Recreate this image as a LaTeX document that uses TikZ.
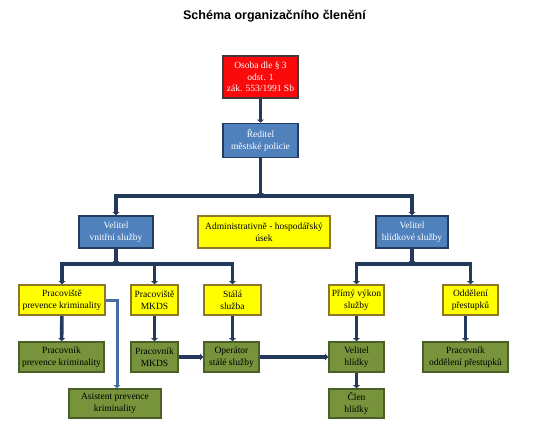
\documentclass[tikz,border=0pt]{standalone}
\usepackage{fontspec}
\setmainfont{Liberation Serif}
\newfontfamily\titlefont{Liberation Sans}
\usepackage{tikz}
\usetikzlibrary{arrows.meta}
\usetikzlibrary{calc}

\begin{document}
\begin{tikzpicture}[every text node part/.style={align=center},
				x=1pt, y=-1pt,
				every node/.style={font=\fontsize{9.5}{11.5}\selectfont},
				box/.style={rectangle, inner sep=0pt, line width=1.6pt},
				redbox/.style={box, fill=osred, draw=osredline, text=white, minimum width=75pt, minimum height=42pt},
				bluebox/.style={box, fill=osblue, draw=osblueline, text=white, minimum height=34pt},
				yellowbox/.style={box, fill=osyellow, draw=osyellowline, minimum height=30pt},
				greenbox/.style={box, fill=osgreen, draw=osgreenline, minimum height=30pt},
				arrow/.style={-{Triangle[length=3pt,width=6.5pt]}, line width=3.6pt, osnavy},
				lightarrow/.style={-{Triangle[length=3pt,width=6.5pt]}, line width=3pt, osasist}]

					\definecolor{osred}{RGB}{250,10,10}
					\definecolor{osredline}{RGB}{70,55,60}
					\definecolor{osblue}{RGB}{79,129,189}
					\definecolor{osblueline}{RGB}{35,60,95}
					\definecolor{osyellow}{RGB}{255,255,0}
					\definecolor{osyellowline}{RGB}{140,120,40}
					\definecolor{osgreen}{RGB}{119,147,60}
					\definecolor{osgreenline}{RGB}{75,95,40}
					\definecolor{osnavy}{RGB}{36,58,90}
					\definecolor{osasist}{RGB}{70,110,160}

					\useasboundingbox (0,0) rectangle (549,437);

					\node (title) at (274.5,16) {\titlefont\bfseries\fontsize{12.5}{14}\selectfont Schéma organizačního členění};

					\node[redbox] (osoba) at (260.5,77) {Osoba dle § 3\\ odst. 1\\ zák. 553/1991 Sb};
					\node[bluebox, minimum width=75pt] (reditel) at (260.5,140.5) {Ředitel\\ městské policie};

					\node[bluebox, minimum width=74pt, minimum height=32pt] (vnitrni) at (116,232) {Velitel\\ vnitřní služby};
					\node[yellowbox, minimum width=132pt, minimum height=32pt] (admin) at (264,232) {Administrativně - hospodářský\\ úsek};
					\node[bluebox, minimum width=72pt, minimum height=32pt] (hlidkova) at (412,232) {Velitel\\ hlídkové služby};

					\node[yellowbox, minimum width=86pt] (prevence) at (62,300) {Pracoviště\\ prevence kriminality};
					\node[yellowbox, minimum width=47pt] (mkds) at (154.5,300) {Pracoviště\\ MKDS};
					\node[yellowbox, minimum width=57pt] (stala) at (232.5,300) {Stálá\\ služba};
					\node[yellowbox, minimum width=55pt] (vykon) at (356.5,300) {Přímý výkon\\ služby};
					\node[yellowbox, minimum width=55pt] (prestupky) at (470.5,300) {Oddělení\\ přestupků};

					\node[greenbox, minimum width=85pt] (pprevence) at (61.5,357) {Pracovník\\ prevence kriminality};
					\node[greenbox, minimum width=47pt] (pmkds) at (154.5,357) {Pracovník\\ MKDS};
					\node[greenbox, minimum width=55pt] (operator) at (231.5,357) {Operátor\\ stálé služby};
					\node[greenbox, minimum width=55pt] (hlidka) at (356.5,357) {Velitel\\ hlídky};
					\node[greenbox, minimum width=85pt] (pprestupky) at (465.5,357) {Pracovník\\ oddělení přestupků};

					\node[greenbox, minimum width=92pt, minimum height=29pt] (asistent) at (115,403.5) {Asistent prevence\\ kriminality};
					\node[greenbox, minimum width=55pt, minimum height=29pt] (clen) at (356.5,403.5) {Člen\\ hlídky};

					\coordinate (bar) at (260.5,196);
					\coordinate (barleft) at (116,264);
					\coordinate (barright) at (412,264);

					\draw (osoba) edge [arrow] (reditel);
					\draw (reditel) edge [arrow] (bar);
					\draw[arrow] (bar) -| (vnitrni);
					\draw[arrow] (bar) -| (hlidkova);

					\draw (vnitrni) edge [arrow] (barleft);
					\draw[arrow] (barleft) -| (prevence);
					\draw[arrow] (barleft) -| (mkds);
					\draw[arrow] (barleft) -| (stala);
					\draw (hlidkova) edge [arrow] (barright);
					\draw[arrow] (barright) -| (vykon);
					\draw[arrow] (barright) -| (prestupky);

					\draw (prevence) edge [arrow] (pprevence);
					\draw (mkds) edge [arrow] (pmkds);
					\draw (stala.south) edge [arrow] (stala.south |- operator.north);
					\draw (vykon) edge [arrow] (hlidka);
					\draw (prestupky.south -| pprestupky.north) edge [arrow] (pprestupky);
					\draw (pmkds) edge [arrow] (operator);
					\draw (operator) edge [arrow] (hlidka);
					\draw (hlidka) edge [arrow] (clen);

					\draw[lightarrow] (prevence.east) -| ($(asistent.north)+(2,0)$);
				\end{tikzpicture}
\end{document}
